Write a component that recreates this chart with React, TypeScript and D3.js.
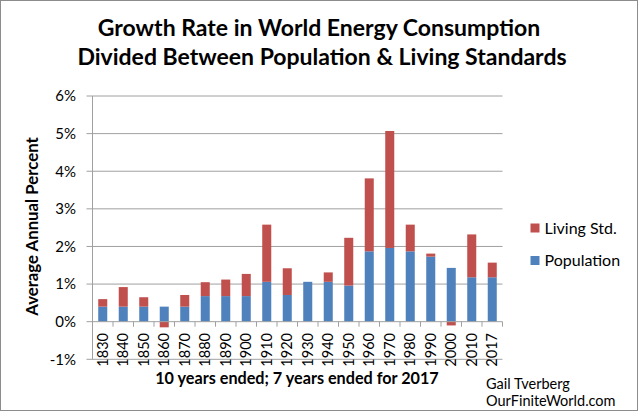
import React, { useEffect, useRef } from 'react';
import * as d3 from 'd3';

// decade ending labels (last one is a 7-year period)
const periods = ['1830', '1840', '1850', '1860', '1870', '1880', '1890', '1900', '1910', '1920',
  '1930', '1940', '1950', '1960', '1970', '1980', '1990', '2000', '2010', '2017'];

// average annual growth, percent
const population = [0.40, 0.40, 0.40, 0.40, 0.40, 0.68, 0.68, 0.68, 1.06, 0.71,
  1.06, 1.06, 0.96, 1.87, 1.96, 1.87, 1.73, 1.43, 1.18, 1.18];
const livingStd = [0.20, 0.52, 0.25, -0.15, 0.31, 0.37, 0.44, 0.59, 1.52, 0.71,
  0.00, 0.25, 1.27, 1.94, 3.11, 0.71, 0.08, -0.10, 1.14, 0.39];

const yTicks = [-1, 0, 1, 2, 3, 4, 5, 6];
const seriesNames = ['Population', 'Living Std.'];
const colors = ['#4F81BD', '#C0504D'];

const W = 640;
const H = 412;
const FONT = 'Lato, "Open Sans", sans-serif';

const Chart: React.FC = () => {
  const ref = useRef<SVGSVGElement>(null);

  useEffect(() => {
    if (!ref.current) return;
    const svg = d3.select(ref.current);
    svg.selectAll('*').remove();

    const left = 92.5, right = 502.5, top = 96, bottom = 359.3;
    const gridColor = '#A0A0A0';

    // frame
    svg.append('rect')
      .attr('x', 0.5).attr('y', 0.5)
      .attr('width', 637).attr('height', 410)
      .attr('fill', 'white').attr('stroke', '#8c8c8c');

    const rows = periods.map((p, i) => ({ period: p, Population: population[i], 'Living Std.': livingStd[i] }));

    const x = d3.scaleBand<string>()
      .domain(periods)
      .range([left, right])
      .paddingInner(0.56)
      .paddingOuter(0.28);

    const y = d3.scaleLinear().domain([-1, 6]).range([bottom, top]);

    // gridlines + y tick marks
    svg.append('g')
      .selectAll('line')
      .data(yTicks.filter(t => t !== 0))
      .join('line')
      .attr('x1', left - 6).attr('x2', right)
      .attr('y1', d => y(d)).attr('y2', d => y(d))
      .attr('stroke', gridColor).attr('stroke-width', 1);

    svg.append('line')
      .attr('x1', left - 6).attr('x2', left)
      .attr('y1', y(0)).attr('y2', y(0))
      .attr('stroke', gridColor);

    // y axis line
    svg.append('line')
      .attr('x1', left).attr('x2', left)
      .attr('y1', top).attr('y2', bottom)
      .attr('stroke', gridColor);

    // y tick labels
    svg.append('g')
      .selectAll('text')
      .data(yTicks)
      .join('text')
      .attr('x', 76)
      .attr('y', d => y(d))
      .attr('dy', '0.36em')
      .attr('text-anchor', 'end')
      .attr('font-family', FONT)
      .attr('font-size', 15)
      .attr('fill', '#000')
      .text(d => `${d}%`);

    // stacked bars
    const stack = d3.stack<any>()
      .keys(seriesNames)
      .offset(d3.stackOffsetDiverging);
    const layers = stack(rows);

    svg.append('g')
      .selectAll('g')
      .data(layers)
      .join('g')
      .attr('fill', (_, i) => colors[i])
      .selectAll('rect')
      .data(d => d)
      .join('rect')
      .attr('x', d => x(d.data.period) as number)
      .attr('width', x.bandwidth())
      .attr('y', d => y(Math.max(d[0], d[1])))
      .attr('height', d => Math.abs(y(d[0]) - y(d[1])));

    // x axis at 0 with ticks between categories
    svg.append('line')
      .attr('x1', left).attr('x2', right)
      .attr('y1', y(0)).attr('y2', y(0))
      .attr('stroke', gridColor);

    const step = x.step();
    svg.append('g')
      .selectAll('line')
      .data(d3.range(1, periods.length + 1))
      .join('line')
      .attr('x1', i => left + i * step).attr('x2', i => left + i * step)
      .attr('y1', y(0)).attr('y2', y(0) + 5)
      .attr('stroke', gridColor);

    // x labels, rotated
    svg.append('g')
      .selectAll('text')
      .data(periods)
      .join('text')
      .attr('transform', d => `translate(${(x(d) as number) + x.bandwidth() / 2},333) rotate(-90)`)
      .attr('text-anchor', 'end')
      .attr('dy', '0.36em')
      .attr('font-family', FONT)
      .attr('font-size', 14.5)
      .attr('fill', '#000')
      .text(d => d);

    // titles
    const title = svg.append('text')
      .attr('text-anchor', 'middle')
      .attr('font-family', FONT)
      .attr('font-weight', 'bold')
      .attr('font-size', 23)
      .attr('fill', '#000');
    title.append('tspan').attr('x', 319).attr('y', 36)
      .text('Growth Rate in World Energy Consumption');
    title.append('tspan').attr('x', 322).attr('y', 65)
      .text('Divided Between Population & Living Standards');

    svg.append('text')
      .attr('transform', 'translate(38,226.5) rotate(-90)')
      .attr('text-anchor', 'middle')
      .attr('font-family', FONT)
      .attr('font-weight', 'bold')
      .attr('font-size', 16.8)
      .text('Average Annual Percent');

    svg.append('text')
      .attr('x', 297).attr('y', 384.3)
      .attr('text-anchor', 'middle')
      .attr('font-family', FONT)
      .attr('font-weight', 'bold')
      .attr('font-size', 16.2)
      .text('10 years ended; 7 years ended for 2017');

    // credits
    svg.append('text')
      .attr('x', 486).attr('y', 388.5)
      .attr('font-family', FONT)
      .attr('font-size', 14.5)
      .text('Gail Tverberg');
    svg.append('text')
      .attr('x', 486).attr('y', 406.3)
      .attr('font-family', FONT)
      .attr('font-size', 14.5)
      .text('OurFiniteWorld.com');

    // legend (Living Std. on top)
    const legendItems = [
      { name: 'Living Std.', color: colors[1], y: 228 },
      { name: 'Population', color: colors[0], y: 260.5 },
    ];
    const lg = svg.append('g')
      .selectAll('g')
      .data(legendItems)
      .join('g');
    lg.append('rect')
      .attr('x', 530.5).attr('y', d => d.y - 4.5)
      .attr('width', 9).attr('height', 9)
      .attr('fill', d => d.color);
    lg.append('text')
      .attr('x', 544.5).attr('y', d => d.y + 5.5)
      .attr('font-family', FONT)
      .attr('font-size', 16)
      .text(d => d.name);
  }, []);

  return (
    <svg
      ref={ref}
      width={W}
      height={H}
      style={{ position: 'absolute', left: 0, top: 0, display: 'block', background: 'white' }}
    />
  );
};

export default function App() {
  return <Chart />;
}
